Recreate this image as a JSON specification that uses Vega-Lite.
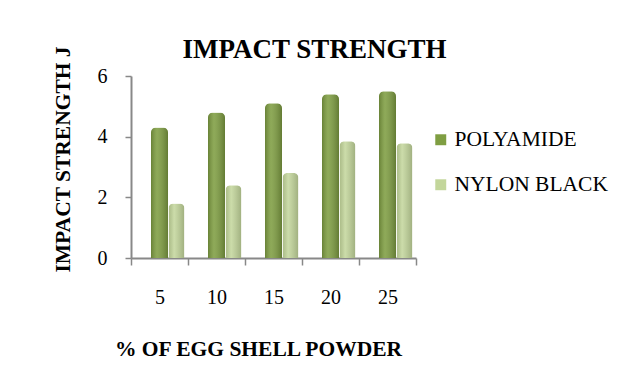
{
  "$schema": "https://vega.github.io/schema/vega-lite/v6.json",
  "width": 285,
  "height": 182,
  "autosize": {"type": "none"},
  "padding": {"left": 131, "top": 76, "right": 201, "bottom": 115},
  "background": "white",
  "config": {
    "view": {"stroke": null},
    "font": "Liberation Serif"
  },
  "title": {
    "text": "IMPACT STRENGTH",
    "font": "Liberation Serif",
    "fontSize": 27,
    "fontWeight": "bold",
    "color": "black",
    "anchor": "middle",
    "frame": "group",
    "baseline": "alphabetic",
    "offset": 19,
    "dx": 41,
    "dy": 58
  },
  "data": {
    "values": [
      {"pct": "5", "series": "POLYAMIDE", "value": 4.3},
      {"pct": "10", "series": "POLYAMIDE", "value": 4.8},
      {"pct": "15", "series": "POLYAMIDE", "value": 5.1},
      {"pct": "20", "series": "POLYAMIDE", "value": 5.4},
      {"pct": "25", "series": "POLYAMIDE", "value": 5.5},
      {"pct": "5", "series": "NYLON BLACK", "value": 1.8},
      {"pct": "10", "series": "NYLON BLACK", "value": 2.4},
      {"pct": "15", "series": "NYLON BLACK", "value": 2.8},
      {"pct": "20", "series": "NYLON BLACK", "value": 3.85},
      {"pct": "25", "series": "NYLON BLACK", "value": 3.78}
    ]
  },
  "encoding": {
    "x": {
      "field": "pct",
      "type": "nominal",
      "sort": ["5", "10", "15", "20", "25"],
      "scale": {"paddingInner": 0, "paddingOuter": 0},
      "axis": {
        "title": "%  OF EGG SHELL POWDER",
        "titleFont": "Liberation Serif",
        "titleFontSize": 21.5,
        "titleFontWeight": "bold",
        "titleColor": "black",
        "titleAlign": "center",
        "titleBaseline": "alphabetic",
        "titleX": 127,
        "titleY": 97,
        "labelAngle": 0,
        "labelFont": "Liberation Serif",
        "labelFontSize": 20,
        "labelColor": "black",
        "labelBaseline": "alphabetic",
        "labelPadding": 38,
        "tickBand": "extent",
        "tickSize": 7,
        "tickColor": "#888888",
        "tickWidth": 1.5,
        "domainColor": "#888888",
        "domainWidth": 2
      }
    },
    "y": {
      "field": "value",
      "type": "quantitative",
      "scale": {"domain": [0, 6], "nice": false},
      "axis": {
        "title": "IMPACT STRENGTH J",
        "titleFont": "Liberation Serif",
        "titleFontSize": 21.5,
        "titleFontWeight": "bold",
        "titleColor": "black",
        "titleAngle": -90,
        "titleAlign": "center",
        "titleBaseline": "middle",
        "titleX": -68,
        "titleY": 83,
        "values": [0, 2, 4, 6],
        "grid": false,
        "labelFont": "Liberation Serif",
        "labelFontSize": 20,
        "labelColor": "black",
        "labelPadding": 18,
        "tickSize": 6,
        "tickColor": "#888888",
        "tickWidth": 1.5,
        "domainColor": "#888888",
        "domainWidth": 2
      }
    }
  },
  "layer": [
    {
      "transform": [{"filter": "datum.series == 'POLYAMIDE'"}],
      "mark": {"type": "bar", "width": 17, "xOffset": 0, "cornerRadiusTopLeft": 5, "cornerRadiusTopRight": 5},
      "encoding": {
        "color": {
          "field": "series",
          "type": "nominal",
          "scale": {"domain": ["POLYAMIDE", "NYLON BLACK"], "range": ["#7f9e42", "#c3d69b"]},
          "legend": {
            "title": null,
            "orient": "none",
            "legendX": 299,
            "legendY": 53,
            "symbolType": "square",
            "symbolSize": 120,
            "symbolStrokeWidth": 0,
            "labelFont": "Liberation Serif",
            "labelFontSize": 21.5,
            "labelColor": "black",
            "labelOffset": 3,
            "rowPadding": 22,
            "padding": 0
          }
        }
      }
    },
    {
      "transform": [{"filter": "datum.series == 'NYLON BLACK'"}],
      "mark": {"type": "bar", "width": 16, "xOffset": 17, "cornerRadiusTopLeft": 5, "cornerRadiusTopRight": 5},
      "encoding": {
        "color": {"field": "series", "type": "nominal"}
      }
    },
    {
      "transform": [{"filter": "datum.series == 'POLYAMIDE'"}],
      "mark": {
        "type": "bar", "width": 17, "xOffset": 0, "cornerRadiusTopLeft": 5, "cornerRadiusTopRight": 5,
        "fill": {"gradient": "linear", "x1": 0, "x2": 1, "y1": 0, "y2": 0,
          "stops": [
            {"offset": 0, "color": "rgba(0,0,0,0.18)"},
            {"offset": 0.35, "color": "rgba(255,255,255,0.12)"},
            {"offset": 1, "color": "rgba(0,0,0,0.22)"}
          ]}
      }
    },
    {
      "transform": [{"filter": "datum.series == 'NYLON BLACK'"}],
      "mark": {
        "type": "bar", "width": 16, "xOffset": 17, "cornerRadiusTopLeft": 5, "cornerRadiusTopRight": 5,
        "fill": {"gradient": "linear", "x1": 0, "x2": 1, "y1": 0, "y2": 0,
          "stops": [
            {"offset": 0, "color": "rgba(0,0,0,0.12)"},
            {"offset": 0.35, "color": "rgba(255,255,255,0.15)"},
            {"offset": 1, "color": "rgba(0,0,0,0.18)"}
          ]}
      }
    }
  ]
}
